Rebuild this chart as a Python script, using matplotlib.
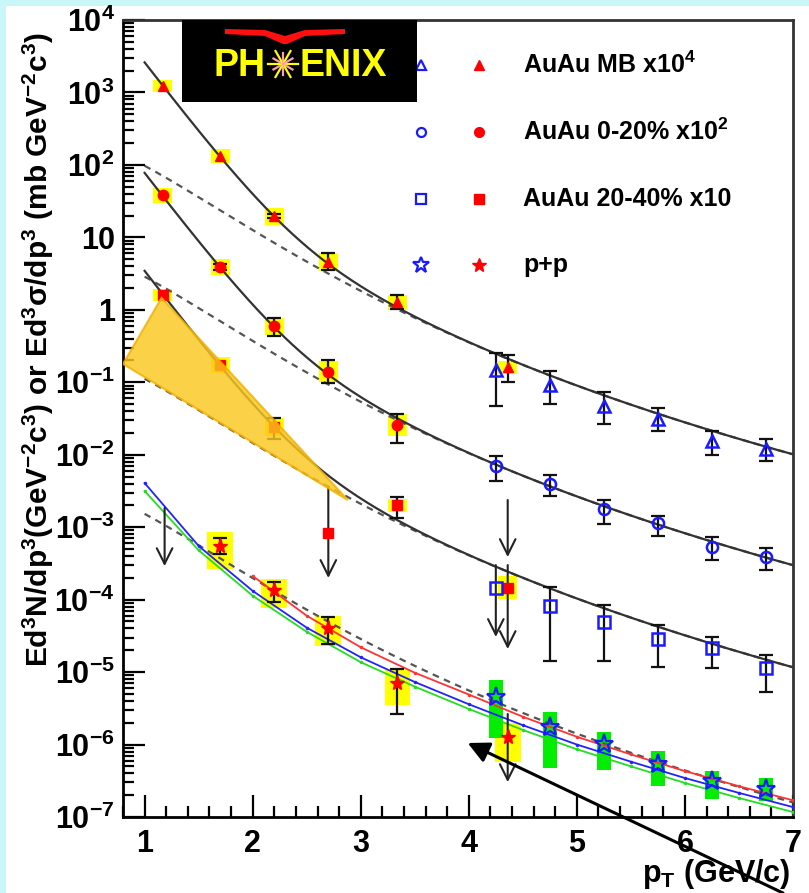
import numpy as np
import matplotlib
matplotlib.use("Agg")
import matplotlib.pyplot as plt
from matplotlib.patches import Rectangle, Polygon
from matplotlib.ticker import FixedLocator, NullFormatter, FuncFormatter, LogLocator

plt.rcParams["font.family"] = ["Liberation Sans", "DejaVu Sans"]
plt.rcParams["font.weight"] = "bold"
plt.rcParams["mathtext.fontset"] = "custom"
plt.rcParams["mathtext.rm"] = "Liberation Sans:bold"
plt.rcParams["mathtext.it"] = "Liberation Sans:italic:bold"
plt.rcParams["mathtext.bf"] = "Liberation Sans:bold"

# ---- data ---------------------------------------------------------------
# virtual-photon points (red, filled) with yellow systematic boxes
pt_lo = [1.17, 1.70, 2.20, 2.70, 3.34, 4.36]

mb_red_y = [1230, 133, 19.7, 4.57, 1.28, 0.162]
mb_red_elo = [1230, 133, 18.6, 3.54, 1.03, 0.101]
mb_red_ehi = [1230, 133, 20.9, 6.08, 1.60, 0.238]
mb_red_sys = [1.21, 1.25, 1.31, 1.33, 1.27, 1.23]

c020_red_pt = [1.17, 1.70, 2.20, 2.70, 3.34]
c020_red_y = [38.4, 3.9, 0.597, 0.139, 0.0257]
c020_red_elo = [38.4, 3.55, 0.43, 0.0977, 0.0145]
c020_red_ehi = [38.4, 4.25, 0.76, 0.203, 0.0365]
c020_red_sys = [1.27, 1.29, 1.31, 1.40, 1.40]

c2040_red_y = [1.6, 0.173, 0.0241, 8.3e-4, 2.02e-3, 1.45e-4]
c2040_red_elo = [1.6, 0.173, 0.0165, 8.3e-4, 1.34e-3, 1.45e-4]
c2040_red_ehi = [1.6, 0.173, 0.0321, 8.3e-4, 2.61e-3, 1.45e-4]
c2040_red_sys = [1.21, 1.29, 1.35, 1.0, 1.23, 1.44]

pp_red_pt = [1.70, 2.20, 2.70, 3.34, 4.36]
pp_red_y = [5.5e-4, 1.36e-4, 4.06e-5, 7.06e-6, 1.27e-6]
pp_red_elo = [4.26e-4, 9.27e-5, 2.44e-5, 2.64e-6, 1.27e-6]
pp_red_ehi = [7.08e-4, 1.75e-4, 5.75e-5, 1.10e-5, 1.27e-6]
pp_red_sys_lo = [2.64e-4, 7.65e-5, 2.29e-5, 3.51e-6, 5.74e-7]
pp_red_sys_hi = [8.57e-4, 1.92e-4, 5.94e-5, 1.07e-5, 1.98e-6]

# real-photon points (blue, open)
pt_hi = [4.25, 4.75, 5.25, 5.75, 6.25, 6.75]

mb_blue_y = [0.148, 0.0916, 0.047, 0.0311, 0.0155, 0.012]
mb_blue_elo = [0.047, 0.050, 0.0265, 0.0212, 0.0099, 0.0082]
mb_blue_ehi = [0.253, 0.143, 0.0733, 0.0441, 0.0212, 0.0165]

c020_blue_y = [0.00698, 0.00394, 0.00178, 0.00114, 0.000532, 0.000387]
c020_blue_elo = [0.00434, 0.00269, 0.00111, 0.000755, 0.000352, 0.000256]
c020_blue_ehi = [0.0096, 0.00525, 0.00237, 0.00143, 0.00073, 0.000515]

c2040_blue_y = [1.45e-4, 8.2e-5, 4.9e-5, 2.86e-5, 2.15e-5, 1.14e-5]
c2040_blue_elo = [1.45e-4, 1.42e-5, 1.42e-5, 1.17e-5, 1.14e-5, 5.3e-6]
c2040_blue_ehi = [1.45e-4, 1.49e-4, 8.43e-5, 4.46e-5, 3.05e-5, 1.72e-5]

pp_blue_y = [4.5e-6, 1.75e-6, 1.02e-6, 5.4e-7, 3.1e-7, 2.43e-7]
pp_blue_sys_lo = [1.23e-6, 4.74e-7, 4.45e-7, 2.67e-7, 1.77e-7, 1.66e-7]
pp_blue_sys_hi = [7.76e-6, 2.81e-6, 1.49e-6, 8.13e-7, 4.31e-7, 3.45e-7]

# upper limits (x, top, bottom)
lim_pt = [1.185, 2.70, 4.25, 4.36, 4.36, 4.36]
lim_top = [1.84e-3, 3.58e-3, 3.0e-4, 3.0e-4, 2.37e-3, 2.64e-6]
lim_bot = [2.9e-4, 1.99e-4, 3.05e-5, 2.08e-5, 3.87e-4, 3.03e-7]

# fits: p+p modified power law scaled by T_AA, plus exponential (T = 221 MeV)
pp_A, pp_b, pp_n = 4.46e-3, 2.8, 3.51
exp_T = 0.221
scale_mb, scale_020, scale_2040 = 6.37e4, 1.88e3, 73.3
exp_mb, exp_020, exp_2040 = 2.31e5, 6900.0, 308.0

# p+p pQCD curves
th_pt = [1.0, 1.5, 2.0, 2.5, 3.0, 3.5, 4.0, 4.5, 5.0, 5.5, 6.0, 6.5, 7.0]
th_blue = [4.07e-3, 5.5e-4, 1.32e-4, 4.1e-5, 1.6e-5, 7.3e-6, 3.6e-6, 1.85e-6,
           1.0e-6, 5.8e-7, 3.45e-7, 2.15e-7, 1.37e-7]
th_green = [3.16e-3, 4.8e-4, 1.13e-4, 3.6e-5, 1.37e-5, 6.3e-6, 3.1e-6, 1.59e-6,
            8.6e-7, 5.0e-7, 2.95e-7, 1.83e-7, 1.17e-7]
th_red_pt = [2.0, 2.5, 3.0, 3.5, 4.0, 4.5, 5.0, 5.5, 6.0, 6.5, 7.0]
th_red = [2.12e-4, 6.0e-5, 2.2e-5, 9.8e-6, 4.9e-6, 2.42e-6, 1.28e-6, 7.3e-7,
          4.3e-7, 2.66e-7, 1.7e-7]

# orange highlight triangle (pt, value)
tri_pt = [0.8, 1.157, 2.88]
tri_y = [0.179, 1.46, 2.37e-3]

legend_labels = ["AuAu MB x10$^{4}$", "AuAu 0-20% x10$^{2}$",
                 "AuAu 20-40% x10", "p+p"]

# ---- figure ---------------------------------------------------------------
W, H = 809, 893
fig = plt.figure(figsize=(W / 100, H / 100), dpi=100)
fig.patch.set_facecolor("#c9f7f7")
fig.patches.append(Rectangle((6 / W, 0), 1, 1 - 6 / H, transform=fig.transFigure,
                             facecolor="white", edgecolor="none", zorder=-5))

ax = fig.add_axes([123 / W, 1 - 817 / H, 670 / W, 797 / H])
ax.set_zorder(1)
ax.set_xlim(0.8, 7)
ax.set_yscale("log")
ax.set_ylim(1e-7, 1e4)

BLUE = "#1a1aff"
RED = "#ff0000"
fine = np.linspace(1.0, 7.0, 300)


def pp_fit(p):
    return pp_A * (1 + p ** 2 / pp_b) ** (-pp_n)


# fit curves
for sc, ex in [(scale_mb, exp_mb), (scale_020, exp_020), (scale_2040, exp_2040)]:
    ax.plot(fine, sc * pp_fit(fine), color="#555555", lw=1.6, ls=(0, (3, 2.5)), zorder=3)
    ax.plot(fine, sc * pp_fit(fine) + ex * np.exp(-fine / exp_T),
            color="#333333", lw=1.6, zorder=3)
ax.plot(fine, pp_fit(fine), color="#555555", lw=1.6, ls=(0, (3, 2.5)), zorder=3)

# theory curves
ax.plot(th_pt, th_green, color="#22dd22", lw=1.3, marker="o", ms=1.5, zorder=3)
ax.plot(th_pt, th_blue, color="#2222ff", lw=1.3, marker="o", ms=1.5, zorder=3)
ax.plot(th_red_pt, th_red, color="#ff3333", lw=1.3, marker="o", ms=1.5, zorder=3)


def sys_boxes(xs, lo, hi, half_w, color):
    for x, a, b in zip(xs, lo, hi):
        if b > a:
            ax.add_patch(Rectangle((x - half_w, a), 2 * half_w, b - a,
                                   facecolor=color, edgecolor="none", zorder=2))


def err(xs, ys, lo, hi):
    for x, y, a, b in zip(xs, ys, lo, hi):
        if b > a:
            ax.errorbar([x], [y], yerr=[[y - a], [b - y]], fmt="none",
                        ecolor="#111111", elinewidth=1.6, capsize=5, capthick=1.6,
                        zorder=4)


# yellow / green boxes
for ys, f, xs in [(mb_red_y, mb_red_sys, pt_lo), (c020_red_y, c020_red_sys, c020_red_pt),
                  (c2040_red_y, c2040_red_sys, pt_lo)]:
    sys_boxes(xs, [y / s for y, s in zip(ys, f)], [y * s for y, s in zip(ys, f)],
              0.088, "#ffff00")
sys_boxes(pp_red_pt, pp_red_sys_lo, pp_red_sys_hi, 0.12, "#ffff00")
sys_boxes(pt_hi, pp_blue_sys_lo, pp_blue_sys_hi, 0.065, "#00ee00")

# error bars
err(pt_lo, mb_red_y, mb_red_elo, mb_red_ehi)
err(c020_red_pt, c020_red_y, c020_red_elo, c020_red_ehi)
err(pt_lo, c2040_red_y, c2040_red_elo, c2040_red_ehi)
err(pp_red_pt, pp_red_y, pp_red_elo, pp_red_ehi)
err(pt_hi, mb_blue_y, mb_blue_elo, mb_blue_ehi)
err(pt_hi, c020_blue_y, c020_blue_elo, c020_blue_ehi)
err(pt_hi, c2040_blue_y, c2040_blue_elo, c2040_blue_ehi)

# upper-limit arrows
for x, t, b in zip(lim_pt, lim_top, lim_bot):
    ax.annotate("", xy=(x, b), xytext=(x, t),
                arrowprops=dict(arrowstyle="->", color="#222222", lw=1.5,
                                mutation_scale=28, shrinkA=0, shrinkB=0), zorder=4)

# markers
ax.plot(pt_lo, mb_red_y, "^", color=RED, ms=7, zorder=5, ls="none")
ax.plot(c020_red_pt, c020_red_y, "o", color=RED, ms=7.5, zorder=5, ls="none")
ax.plot(pt_lo, c2040_red_y, "s", color=RED, ms=6.5, zorder=5, ls="none")
ax.plot(pp_red_pt, pp_red_y, "*", color=RED, ms=11, zorder=5, ls="none")
ax.plot(pt_hi, mb_blue_y, "^", mfc="none", mec=BLUE, mew=1.8, ms=9, zorder=5, ls="none")
ax.plot(pt_hi, c020_blue_y, "o", mfc="none", mec=BLUE, mew=1.8, ms=8, zorder=5, ls="none")
ax.plot(pt_hi, c2040_blue_y, "s", mfc="none", mec=BLUE, mew=1.8, ms=8.5, zorder=5, ls="none")
ax.plot(pt_hi, pp_blue_y, "*", mfc="none", mec=BLUE, mew=1.6, ms=14, zorder=5, ls="none")

# orange highlight
ax.add_patch(Polygon(list(zip(tri_pt, tri_y)), closed=True, facecolor="#fbc71e",
                     edgecolor="#f2b000", lw=1.5, alpha=0.82, zorder=6))

# ---- axes styling ---------------------------------------------------------
ax.xaxis.set_major_locator(FixedLocator([1, 2, 3, 4, 5, 6, 7]))
ax.xaxis.set_minor_locator(FixedLocator(np.arange(0.8, 7.01, 0.2)))
ax.yaxis.set_major_locator(LogLocator(base=10, numticks=20))
ax.yaxis.set_minor_locator(LogLocator(base=10, subs=np.arange(2, 10), numticks=20))
ax.yaxis.set_minor_formatter(NullFormatter())


def ylab(v, pos):
    e = int(round(np.log10(v)))
    if e == 0:
        return "1"
    if e == 1:
        return "10"
    return "$\\mathregular{10^{%d}}$" % e


ax.yaxis.set_major_formatter(FuncFormatter(ylab))
ax.tick_params(which="both", direction="in", width=1.6, colors="black",
               labelsize=22)
ax.tick_params(which="major", length=16)
ax.tick_params(which="minor", length=8)
ax.tick_params(axis="y", pad=6)
ax.tick_params(axis="x", pad=9)
for lab in ax.get_xticklabels() + ax.get_yticklabels():
    lab.set_fontweight("bold")
for side in ["left", "bottom"]:
    ax.spines[side].set_linewidth(2.0)
for side in ["top", "right"]:
    ax.spines[side].set_linewidth(2.0)
    ax.spines[side].set_color("#333333")

fig.text(38 / W, 1 - 350 / H,
         "Ed$^{3}$N/dp$^{3}$(GeV$^{-2}$c$^{3}$) or Ed$^{3}$\u03c3/dp$^{3}$ (mb GeV$^{-2}$c$^{3}$)",
         rotation=90, ha="center", va="center", fontsize=21.5, fontweight="bold")
fig.text(791 / W, 1 - 882 / H, "p$_{\\mathregular{T}}$ (GeV/c)", ha="right", va="baseline",
         fontsize=22, fontweight="bold")

# ---- legend (drawn by hand, ROOT style) -------------------------------------
leg_y = [65, 132, 199, 265]
leg_blue = [dict(marker="^", ms=7), dict(marker="o", ms=6.5), dict(marker="s", ms=7),
            dict(marker="*", ms=12)]
leg_red = [dict(marker="^", ms=7), dict(marker="o", ms=7), dict(marker="s", ms=7),
           dict(marker="*", ms=10)]
for py, lab, mb, mr in zip(leg_y, legend_labels, leg_blue, leg_red):
    yy = 1 - py / H
    fig.lines.append(plt.Line2D([421 / W], [yy], transform=fig.transFigure, ls="none",
                                mfc="none", mec=BLUE, mew=1.6, zorder=7, **mb))
    fig.lines.append(plt.Line2D([479 / W], [yy], transform=fig.transFigure, ls="none",
                                color=RED, zorder=7, **mr))
    fig.text(523 / W, yy, lab, ha="left", va="center", fontsize=18, fontweight="bold",
             zorder=7)

# ---- PHENIX logo ----------------------------------------------------------
fig.patches.append(Rectangle((182 / W, 1 - 102 / H), 235 / W, 82 / H,
                             transform=fig.transFigure, facecolor="black",
                             edgecolor="none", zorder=8))
wing = [(225, 29), (265, 30), (285, 36), (305, 30), (345, 29), (345, 34), (305, 36),
        (287, 44), (283, 44), (265, 36), (225, 34)]
fig.patches.append(Polygon([(x / W, 1 - y / H) for x, y in wing], closed=True,
                           transform=fig.transFigure, facecolor="#ff1010",
                           edgecolor="none", zorder=9))
fig.text(266 / W, 1 - 66 / H, "PH", ha="right", va="center", color="#ffff00",
         fontsize=27, fontweight="bold", zorder=9)
fig.text(300 / W, 1 - 66 / H, "ENIX", ha="left", va="center", color="#ffff00",
         fontsize=27, fontweight="bold", zorder=9)
for k, ang in enumerate(np.linspace(0, 2 * np.pi, 12, endpoint=False)):
    c = "#ffff00" if k % 2 == 0 else "#ff9fb0"
    r = 15 if k % 2 == 0 else 11
    fig.lines.append(plt.Line2D([283 / W, (283 + r * np.cos(ang)) / W],
                                [1 - 64 / H, 1 - (64 + r * np.sin(ang)) / H],
                                transform=fig.transFigure, color=c, lw=1.6, zorder=9))

# big annotation arrow
ax.annotate("", xy=(3.99, 1.05e-6), xycoords="data", xytext=(783 / W, 0.0),
            textcoords="figure fraction", annotation_clip=False,
            arrowprops=dict(arrowstyle="-|>", color="black", lw=2.2,
                            mutation_scale=32, shrinkA=0, shrinkB=0), zorder=10)

fig.savefig("out.png", dpi=100, facecolor=fig.get_facecolor())
